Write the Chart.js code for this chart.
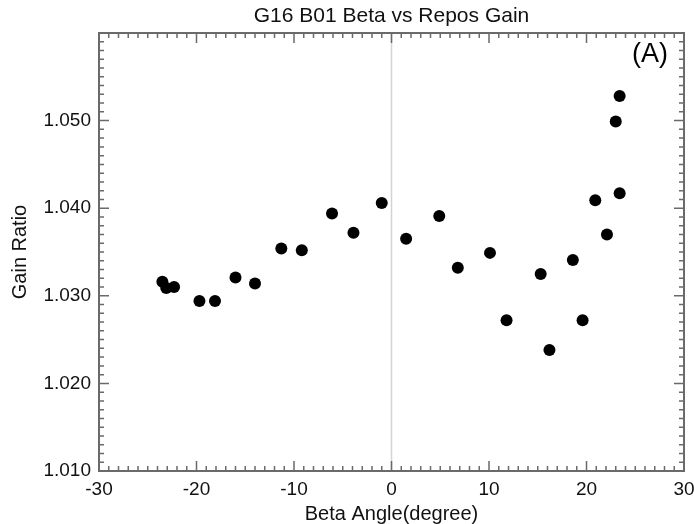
<!DOCTYPE html>
<html>
<head>
<meta charset="utf-8">
<script src="https://cdn.jsdelivr.net/npm/chart.js@4"></script>
<style>
  html, body { margin: 0; padding: 0; background: #fff; }
  #chart { display: block; }
</style>
</head>
<body>
<canvas id="chart" width="694" height="524"></canvas>
<script>
// beta angle (degree) for each repositioning
const betaAngle = [
  -23.5, -23.1, -22.3, -19.7, -18.1, -16.0, -14.0, -11.3, -9.2, -6.1,
  -3.9, -1.0, 1.5, 4.9, 6.8, 10.1, 11.8, 16.2, 15.3, 19.6,
  18.6, 22.1, 20.9, 23.4, 23.0, 23.4
];
// gain ratio measured at those angles
const gainRatio = [
  1.0316, 1.0309, 1.0310, 1.0294, 1.0294, 1.0321, 1.0314, 1.0354, 1.0352, 1.0394,
  1.0372, 1.0406, 1.0365, 1.0391, 1.0332, 1.0349, 1.0272, 1.0238, 1.0325, 1.0272,
  1.0341, 1.0370, 1.0409, 1.0417, 1.0499, 1.0528
];
const xTickValues = [-30, -20, -10, 0, 10, 20, 30];
const yTickValues = [1.010, 1.020, 1.030, 1.040, 1.050];

const FONT = 'Liberation Sans, Arial, Helvetica, sans-serif';
const frameColor = '#6a6a6a';

// box frame, inward ticks on all four sides, zero line and panel label
const framePlugin = {
  id: 'frame',
  beforeDatasetsDraw(chart) {
    const { ctx, chartArea: a, scales: { x } } = chart;
    ctx.save();
    ctx.strokeStyle = '#d4d4d4';
    ctx.lineWidth = 1.5;
    const zx = x.getPixelForValue(0);
    ctx.beginPath();
    ctx.moveTo(zx, a.top);
    ctx.lineTo(zx, a.bottom);
    ctx.stroke();
    ctx.restore();
  },
  afterDraw(chart) {
    const { ctx, chartArea: a, scales: { x, y } } = chart;
    ctx.save();
    ctx.strokeStyle = frameColor;
    ctx.lineWidth = 1.5;
    ctx.beginPath();
    for (let i = -30; i <= 30; i++) {
      const px = x.getPixelForValue(i);
      const len = i % 10 === 0 ? 10 : 5;
      ctx.moveTo(px, a.bottom);
      ctx.lineTo(px, a.bottom - len);
      ctx.moveTo(px, a.top);
      ctx.lineTo(px, a.top + len);
    }
    for (let i = 10; i <= 60; i++) {
      const py = y.getPixelForValue(1 + i / 1000);
      const len = i % 10 === 0 ? 10 : 5;
      ctx.moveTo(a.left, py);
      ctx.lineTo(a.left + len, py);
      ctx.moveTo(a.right, py);
      ctx.lineTo(a.right - len, py);
    }
    ctx.stroke();
    ctx.lineWidth = 2;
    ctx.strokeRect(a.left, a.top, a.right - a.left, a.bottom - a.top);

    ctx.fillStyle = '#000';
    ctx.font = '27px ' + FONT;
    ctx.textAlign = 'right';
    ctx.textBaseline = 'alphabetic';
    ctx.fillText('(A)', a.right - 16, a.top + 29);
    ctx.restore();
  }
};

new Chart(document.getElementById('chart'), {
  type: 'scatter',
  data: {
    datasets: [{
      data: betaAngle.map((b, i) => ({ x: b, y: gainRatio[i] })),
      backgroundColor: '#000',
      borderWidth: 0,
      pointRadius: 6,
      pointHoverRadius: 6
    }]
  },
  options: {
    responsive: false,
    animation: false,
    layout: { padding: { top: 0, left: 0, right: 10, bottom: 0 } },
    plugins: {
      legend: { display: false },
      tooltip: { enabled: false },
      title: {
        display: true,
        text: 'G16 B01 Beta vs Repos Gain',
        fullSize: false,
        color: '#111',
        font: { family: FONT, size: 21, weight: 'normal', lineHeight: 1 },
        padding: { top: 6, bottom: 6 }
      }
    },
    scales: {
      x: {
        type: 'linear',
        min: -30,
        max: 30,
        afterBuildTicks: (s) => { s.ticks = xTickValues.map(v => ({ value: v })); },
        afterFit: (s) => { s.height = 53; s.paddingLeft = 0; s.paddingRight = 0; },
        grid: { display: false, drawTicks: false },
        border: { display: false },
        ticks: {
          color: '#111',
          padding: 9,
          maxRotation: 0,
          font: { family: FONT, size: 19, lineHeight: 1 },
          callback: (v) => String(v)
        },
        title: {
          display: true,
          text: 'Beta Angle(degree)',
          color: '#111',
          font: { family: FONT, size: 20, lineHeight: 1 },
          padding: { top: 0, bottom: 0 }
        }
      },
      y: {
        type: 'linear',
        min: 1.010,
        max: 1.060,
        afterBuildTicks: (s) => { s.ticks = yTickValues.map(v => ({ value: v })); },
        afterFit: (s) => { s.width = 99; s.paddingTop = 0; s.paddingBottom = 0; },
        grid: { display: false, drawTicks: false },
        border: { display: false },
        ticks: {
          color: '#111',
          padding: 8,
          font: { family: FONT, size: 19, lineHeight: 1 },
          callback: (v) => Number(v).toFixed(3)
        },
        title: {
          display: true,
          text: 'Gain Ratio',
          color: '#111',
          font: { family: FONT, size: 20, lineHeight: 1 },
          padding: { top: 10, bottom: 0 }
        }
      }
    }
  },
  plugins: [framePlugin]
});
</script>
</body>
</html>
